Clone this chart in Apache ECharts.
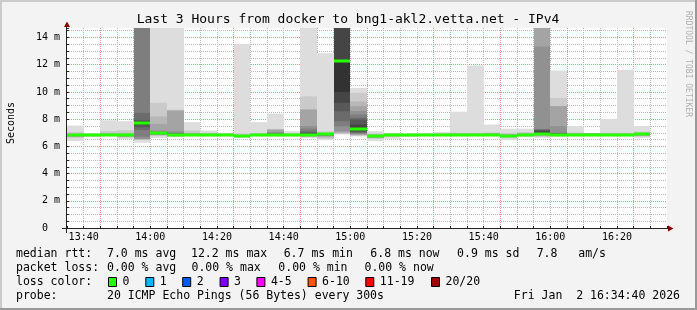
<!DOCTYPE html>
<html><head><meta charset="utf-8">
<script src="https://cdn.jsdelivr.net/npm/echarts@6/dist/echarts.min.js"></script>
<style>html,body{margin:0;padding:0;background:#f3f3f3}#c{width:697px;height:310px}</style>
</head><body><div id="c"></div>
<script>
// ---------- data ----------
const slotTimes = ['13:35','13:40','13:45','13:50','13:55','14:00','14:05','14:10','14:15','14:20','14:25','14:30',
  '14:35','14:40','14:45','14:50','14:55','15:00','15:05','15:10','15:15','15:20','15:25','15:30',
  '15:35','15:40','15:45','15:50','15:55','16:00','16:05','16:10','16:15','16:20','16:25','16:30'];
// 20 sorted ping rtts per 5-min step (ms); 16 = beyond top of chart
const pings = [
  [6.40,6.62,6.70,6.73,6.75,6.77,6.78,6.79,6.80,6.81,6.82,6.83,6.84,6.85,6.86,6.88,6.90,6.94,7.05,7.53],
  [6.70,6.73,6.75,6.76,6.77,6.78,6.79,6.80,6.81,6.82,6.83,6.84,6.85,6.86,6.87,6.88,6.89,6.90,6.92,6.95],
  [6.74,6.77,6.78,6.79,6.80,6.81,6.82,6.82,6.83,6.83,6.84,6.85,6.86,6.87,6.88,6.90,6.93,6.98,7.12,7.92],
  [6.52,6.64,6.70,6.73,6.75,6.77,6.78,6.79,6.80,6.81,6.82,6.83,6.84,6.85,6.87,6.89,6.92,6.97,7.18,7.85],
  [6.27,6.50,6.51,6.52,6.55,6.70,7.20,7.40,7.60,7.70,7.76,7.85,7.92,8.46,16,16,16,16,16,16],
  [6.62,6.75,6.82,6.85,6.87,6.89,6.91,6.93,6.95,6.97,6.99,7.00,7.02,7.04,7.08,7.15,7.65,8.20,9.20,16],
  [6.70,6.72,6.74,6.76,6.77,6.78,6.79,6.80,6.81,6.83,6.86,6.90,6.92,6.95,7.00,7.10,8.62,8.66,8.70,16],
  [6.74,6.77,6.79,6.80,6.81,6.82,6.83,6.84,6.84,6.85,6.86,6.87,6.88,6.89,6.90,6.92,6.94,7.00,7.17,7.78],
  [6.72,6.76,6.78,6.79,6.80,6.81,6.82,6.82,6.83,6.83,6.84,6.85,6.86,6.87,6.88,6.90,6.93,6.96,7.00,7.17],
  [6.73,6.76,6.78,6.79,6.80,6.81,6.82,6.83,6.83,6.84,6.85,6.85,6.86,6.87,6.88,6.89,6.91,6.93,6.96,7.00],
  [6.64,6.67,6.68,6.69,6.70,6.71,6.71,6.72,6.72,6.73,6.74,6.75,6.76,6.77,6.78,6.80,6.82,6.86,6.95,13.53],
  [6.73,6.76,6.78,6.79,6.80,6.81,6.82,6.82,6.83,6.83,6.84,6.85,6.86,6.87,6.88,6.89,6.91,6.94,6.98,7.78],
  [6.72,6.75,6.77,6.79,6.80,6.81,6.82,6.82,6.83,6.83,6.84,6.86,6.88,6.92,7.00,7.05,7.22,7.25,7.28,8.41],
  [6.73,6.76,6.78,6.79,6.80,6.81,6.82,6.82,6.83,6.83,6.84,6.85,6.86,6.87,6.88,6.89,6.91,6.93,6.97,7.12],
  [6.62,6.70,6.72,6.74,6.76,6.78,6.80,6.82,6.84,6.86,6.90,6.95,7.00,7.10,7.30,7.50,8.70,8.72,9.68,16],
  [6.45,6.55,6.65,6.72,6.76,6.80,6.82,6.84,6.86,6.88,6.89,6.90,6.91,6.92,6.93,6.94,6.96,7.00,7.10,12.85],
  [6.88,6.92,6.96,7.02,7.12,7.48,7.85,8.58,9.20,10.00,12.35,16,16,16,16,16,16,16,16,16],
  [6.73,6.78,6.82,6.85,6.90,6.95,7.00,7.05,7.15,7.25,7.37,7.60,7.97,8.10,8.34,8.60,8.95,9.30,9.93,10.30],
  [6.39,6.55,6.62,6.65,6.67,6.68,6.69,6.70,6.71,6.72,6.73,6.74,6.75,6.77,6.79,6.81,6.84,6.88,6.95,7.12],
  [6.56,6.70,6.74,6.76,6.78,6.79,6.80,6.81,6.82,6.83,6.84,6.85,6.86,6.87,6.88,6.89,6.90,6.92,6.95,7.00],
  [6.72,6.74,6.75,6.76,6.77,6.78,6.78,6.79,6.79,6.80,6.80,6.81,6.82,6.83,6.84,6.85,6.86,6.88,6.91,6.95],
  [6.74,6.76,6.77,6.78,6.79,6.80,6.80,6.81,6.81,6.82,6.82,6.83,6.84,6.85,6.86,6.87,6.88,6.90,6.94,7.00],
  [6.75,6.77,6.78,6.79,6.80,6.81,6.82,6.83,6.83,6.84,6.84,6.85,6.86,6.87,6.88,6.89,6.91,6.93,6.97,7.05],
  [6.74,6.77,6.79,6.80,6.81,6.82,6.83,6.84,6.85,6.86,6.86,6.87,6.88,6.89,6.90,6.91,6.93,6.95,7.00,8.55],
  [6.74,6.77,6.79,6.80,6.81,6.82,6.83,6.84,6.84,6.85,6.86,6.87,6.88,6.89,6.90,6.91,6.93,6.95,7.00,11.95],
  [6.75,6.78,6.80,6.81,6.82,6.83,6.84,6.85,6.86,6.87,6.87,6.88,6.89,6.90,6.91,6.92,6.94,6.96,7.02,7.60],
  [6.45,6.60,6.68,6.71,6.73,6.74,6.75,6.76,6.77,6.78,6.78,6.79,6.80,6.81,6.82,6.84,6.86,6.90,6.98,7.30],
  [6.70,6.73,6.75,6.76,6.77,6.78,6.79,6.79,6.80,6.80,6.81,6.82,6.83,6.84,6.86,6.88,6.92,6.98,7.05,7.30],
  [6.63,6.70,6.75,6.80,6.83,6.85,6.86,6.87,6.88,6.88,6.89,7.10,7.22,7.23,7.24,13.34,16,16,16,16],
  [6.72,6.74,6.76,6.78,6.79,6.80,6.81,6.82,6.83,6.85,6.87,6.90,6.93,6.96,7.00,7.48,8.95,8.97,9.56,11.57],
  [6.74,6.77,6.79,6.80,6.81,6.82,6.83,6.84,6.84,6.85,6.86,6.87,6.88,6.89,6.90,6.91,6.93,6.96,7.02,7.48],
  [6.74,6.76,6.78,6.79,6.80,6.81,6.82,6.82,6.83,6.83,6.84,6.85,6.86,6.87,6.88,6.90,6.96,6.97,6.98,7.00],
  [6.74,6.77,6.79,6.80,6.81,6.82,6.83,6.83,6.84,6.84,6.85,6.86,6.87,6.88,6.89,6.90,6.92,6.95,7.00,8.02],
  [6.74,6.77,6.79,6.80,6.81,6.82,6.83,6.83,6.84,6.84,6.85,6.86,6.87,6.88,6.89,6.90,6.92,6.95,7.00,11.63],
  [6.63,6.72,6.77,6.80,6.82,6.84,6.86,6.87,6.88,6.89,6.90,6.91,6.92,6.93,6.94,6.95,6.97,7.00,7.08,7.48],
  null
];
const medians = [6.83,6.83,6.83,6.83,7.73,6.98,6.83,6.85,6.83,6.85,6.73,6.83,6.83,6.83,6.86,6.88,12.24,7.30,
  6.73,6.84,6.80,6.82,6.84,6.86,6.85,6.87,6.78,6.80,6.88,6.85,6.85,6.83,6.84,6.84,6.90,null];
const yTicks = [0,2,4,6,8,10,12,14];
const titleText = 'Last 3 Hours from docker to bng1-akl2.vetta.net - IPv4';
const rttLine = ['median rtt:','7.0 ms avg','12.2 ms max','6.7 ms min','6.8 ms now','0.9 ms sd','7.8   am/s'];
const lossLine = ['packet loss:','0.00 % avg','0.00 % max','0.00 % min','0.00 % now'];
const lossColorLabels = ['0','1','2','3','4-5','6-10','11-19','20/20'];
const lossColors = ['#26ff00','#00b8ff','#0059ff','#7e00ff','#ff00ff','#ff5500','#ff0000','#a00000'];
const probeLine = ['probe:','20 ICMP Echo Pings (56 Bytes) every 300s','Fri Jan  2 16:34:40 2026'];

// ---------- helpers ----------
const FONT = '"DejaVu Sans Mono", monospace';
const Y_MAX = 14.7, STEP = 5;
const GRID_GRAY = '#b8b8b8', GRID_RED = '#e89090';
const toMin = s => { const p = s.split(':'); return (+p[0]) * 60 + (+p[1]); };
const fmt = m => Math.floor(m / 60) + ':' + String(m % 60).padStart(2, '0');
const T0 = toMin(slotTimes[0]), T1 = T0 + 180;

const smokeData = [], medData = [];
slotTimes.forEach((t, i) => {
  if (pings[i]) smokeData.push([toMin(t)].concat(pings[i]));
  if (medians[i] != null) medData.push([toMin(t), medians[i]]);
});
const gray = (i, half) => { const c = Math.floor(190 / half * (half - i)) + 50; return 'rgb(' + c + ',' + c + ',' + c + ')'; };

const chart = echarts.init(document.getElementById('c'), null, { renderer: 'canvas' });

const txt = (x, y, s, extra) => Object.assign({ type: 'text', x: x, y: y, silent: true,
  style: Object.assign({ text: s, font: '11.5px ' + FONT, fill: '#000', textVerticalAlign: 'middle' }, extra || {}) });

const graphics = [
  { type: 'rect', shape: { x: 0, y: 0, width: 697, height: 2 }, style: { fill: '#cbcbcb' }, silent: true },
  { type: 'rect', shape: { x: 0, y: 0, width: 2, height: 310 }, style: { fill: '#cbcbcb' }, silent: true },
  { type: 'rect', shape: { x: 695, y: 0, width: 2, height: 310 }, style: { fill: '#999' }, silent: true },
  { type: 'rect', shape: { x: 0, y: 308, width: 697, height: 2 }, style: { fill: '#999' }, silent: true },
  { type: 'text', x: 348, y: 20, silent: true, style: { text: titleText, font: '13px ' + FONT, fill: '#000', textAlign: 'center', textVerticalAlign: 'middle' } },
  { type: 'text', x: 11, y: 123, rotation: Math.PI / 2, silent: true, style: { text: 'Seconds', font: '10px ' + FONT, fill: '#000', textAlign: 'center', textVerticalAlign: 'middle' } },
  { type: 'text', x: 688.5, y: 64, rotation: -Math.PI / 2, silent: true, style: { text: 'RRDTOOL / TOBI OETIKER', font: '8px ' + FONT, fill: '#b0b0b0', textAlign: 'center', textVerticalAlign: 'middle' } },
  { type: 'line', shape: { x1: 62, y1: 228.5, x2: 668, y2: 228.5 }, style: { stroke: '#222', lineWidth: 1 }, silent: true },
  { type: 'line', shape: { x1: 66.5, y1: 233, x2: 66.5, y2: 26 }, style: { stroke: '#222', lineWidth: 1 }, silent: true },
  { type: 'polygon', shape: { points: [[67, 21.5], [64, 27], [70, 27]] }, style: { fill: '#7f0000' }, silent: true },
  { type: 'polygon', shape: { points: [[673.5, 228.5], [668, 225.5], [668, 231.5]] }, style: { fill: '#7f0000' }, silent: true }
];
const rttX = [16, 107, 191, 283.7, 370.3, 457.1, 536.7];
rttLine.forEach((s, k) => graphics.push(txt(rttX[k], 254.5, s)));
const lossX = [16, 107, 191.5, 278.3, 364.5];
lossLine.forEach((s, k) => graphics.push(txt(lossX[k], 268.5, s)));
graphics.push(txt(16, 282.5, 'loss color:'));
const boxX = [108, 145.3, 182.2, 219.6, 256.4, 307.6, 365.3, 431];
lossColorLabels.forEach((s, k) => {
  graphics.push({ type: 'rect', silent: true, shape: { x: boxX[k] + 0.5, y: 277.5, width: 8, height: 9 }, style: { fill: lossColors[k], stroke: '#000', lineWidth: 1 } });
  graphics.push(txt(boxX[k] + 14.5, 282.5, s));
});
graphics.push(txt(16, 296.5, probeLine[0]));
graphics.push(txt(107, 296.5, probeLine[1]));
graphics.push(txt(680, 296.5, probeLine[2], { textAlign: 'right' }));

const option = {
  backgroundColor: '#f3f3f3',
  animation: false,
  grid: { left: 67, right: 30, top: 28, bottom: 82, show: true, backgroundColor: '#fff', borderWidth: 0 },
  xAxis: {
    type: 'value', min: T0, max: T1, interval: STEP,
    axisLine: { show: false },
    axisTick: { show: true, inside: true, length: 2, lineStyle: { color: '#222' } },
    axisLabel: { margin: 4, fontFamily: FONT, fontSize: 10, color: '#000',
      formatter: v => (v % 20 === 0 && v > T0 && v < T1) ? fmt(v) : '' },
    splitLine: { show: true, showMinLine: false, showMaxLine: false,
      lineStyle: { color: [GRID_GRAY, GRID_RED, GRID_GRAY, GRID_GRAY], type: [1, 1], width: 1 } }
  },
  yAxis: {
    type: 'value', min: 0, max: Y_MAX, interval: 2,
    axisLine: { show: false },
    axisTick: { show: true, inside: true, length: 2, lineStyle: { color: '#222' } },
    minorTick: { show: true, splitNumber: 4, length: 2, lineStyle: { color: '#222' } },
    axisLabel: { margin: 7, fontFamily: FONT, fontSize: 10, color: '#000',
      formatter: v => yTicks.indexOf(v) < 0 ? '' : (v === 0 ? '0  ' : v + ' m') },
    splitLine: { show: true, showMinLine: false, showMaxLine: false,
      lineStyle: { color: GRID_RED, type: [1, 1], width: 1 } },
    minorSplitLine: { show: true, lineStyle: { color: GRID_GRAY, type: [1, 1], width: 1 } }
  },
  graphic: graphics,
  series: [
    {
      type: 'custom', clip: true, encode: { x: 0, y: 1 }, data: smokeData,
      renderItem: (params, api) => {
        const t = api.value(0), n = 20, half = 10;
        const x0 = Math.round(api.coord([t, 0])[0]), x1 = Math.round(api.coord([t + STEP, 0])[0]);
        const children = [];
        for (let i = 1; i <= half; i++) {
          const lo = Math.min(api.value(i), Y_MAX), hi = Math.min(api.value(n + 1 - i), Y_MAX);
          const yl = api.coord([t, lo])[1], yh = api.coord([t, hi])[1];
          children.push({ type: 'rect', shape: { x: x0, y: yh, width: x1 - x0, height: Math.max(yl - yh, 0) },
            style: { fill: gray(i, half) } });
        }
        return { type: 'group', children: children };
      }
    },
    {
      type: 'custom', clip: true, encode: { x: 0, y: 1 }, data: medData,
      renderItem: (params, api) => {
        const t = api.value(0);
        const x0 = Math.round(api.coord([t, 0])[0]), x1 = Math.round(api.coord([t + STEP, 0])[0]);
        const y = Math.round(api.coord([t, api.value(1)])[1]);
        return { type: 'rect', shape: { x: x0, y: y - 1.5, width: x1 - x0, height: 3 }, style: { fill: lossColors[0] } };
      }
    }
  ]
};
chart.setOption(option);
</script>
</body></html>
